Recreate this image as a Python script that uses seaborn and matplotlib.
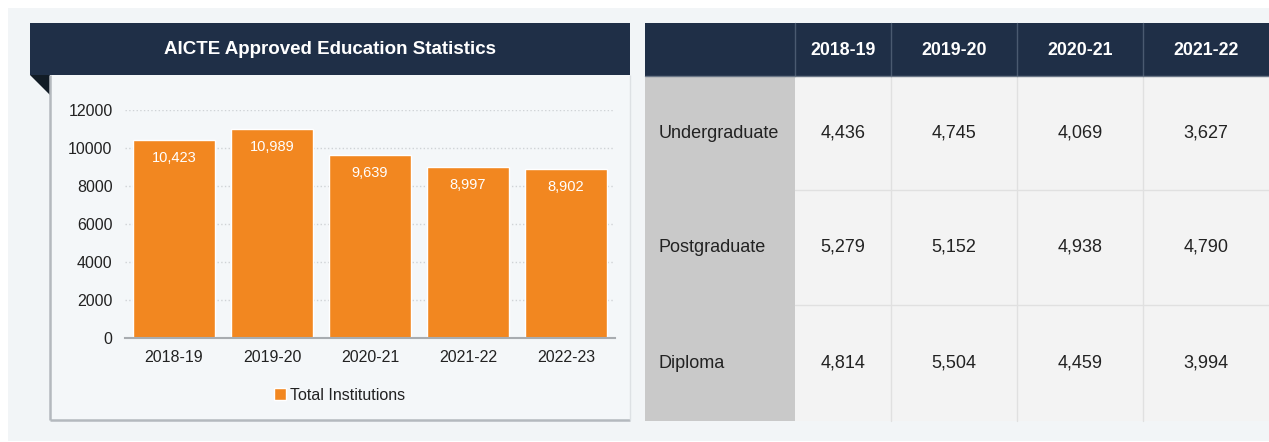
import matplotlib
matplotlib.use('Agg')
import matplotlib.pyplot as plt
import seaborn as sns
from matplotlib.patches import Rectangle, Polygon
from matplotlib.ticker import FixedLocator

# ---------------- data ----------------
years = ['2018-19', '2019-20', '2020-21', '2021-22', '2022-23']
total_institutions = [10423, 10989, 9639, 8997, 8902]
y_ticks = [0, 2000, 4000, 6000, 8000, 10000, 12000]

table_years = ['2018-19', '2019-20', '2020-21', '2021-22']
row_labels = ['Undergraduate', 'Postgraduate', 'Diploma']
undergraduate = [4436, 4745, 4069, 3627]
postgraduate = [5279, 5152, 4938, 4790]
diploma = [4814, 5504, 4459, 3994]
table_rows = [undergraduate, postgraduate, diploma]

title = 'AICTE Approved Education Statistics'
legend_label = 'Total Institutions'

# ---------------- style ----------------
NAVY = '#1f2f47'
ORANGE = '#f28720'
BG = '#f2f5f7'
PANEL = '#f4f7f9'
TXT = '#222222'

sns.set_theme(style='white')
plt.rcParams['font.family'] = ['Liberation Sans', 'DejaVu Sans']

W, H = 1269, 442
fig = plt.figure(figsize=(W / 100, H / 100), dpi=100)
fig.patch.set_facecolor('white')

bg = fig.add_axes([0, 0, 1, 1])
bg.set_xlim(0, W)
bg.set_ylim(H, 0)
bg.axis('off')

# outer background
bg.add_patch(Rectangle((8, 8), W - 8, H - 9, facecolor=BG, lw=0))

# chart panel
bg.add_patch(Rectangle((50, 75), 580, 345, facecolor=PANEL, lw=0))
bg.plot([50, 50], [75, 420], color='#b4b9be', lw=1.8, solid_capstyle='butt')
bg.plot([50, 630], [420, 420], color='#b4b9be', lw=1.8, solid_capstyle='butt')
bg.plot([629.5, 629.5], [75, 420], color='#dde1e4', lw=1, solid_capstyle='butt')
bg.add_patch(Rectangle((30, 23), 600, 52, facecolor=NAVY, lw=0))
bg.add_patch(Polygon([(30, 75), (50, 75), (50, 95)], closed=True, facecolor='#121c26', lw=0))
bg.text(330, 50, title, color='white', fontsize=13.5, fontweight='bold', ha='center', va='center')

# ---------------- table ----------------
col_edges = [645, 795, 891, 1017, 1143, 1269]
row_edges = [23, 76, 190, 305, 421]

# header
bg.add_patch(Rectangle((col_edges[0], row_edges[0]), col_edges[-1] - col_edges[0],
                       row_edges[1] - row_edges[0], facecolor=NAVY, lw=0))
# label column
bg.add_patch(Rectangle((col_edges[0], row_edges[1]), col_edges[1] - col_edges[0],
                       row_edges[-1] - row_edges[1], facecolor='#c9c9c9', lw=0))
# data cells
bg.add_patch(Rectangle((col_edges[1], row_edges[1]), col_edges[-1] - col_edges[1],
                       row_edges[-1] - row_edges[1], facecolor='#f3f3f3', lw=0))
# grid lines in data area
for x in col_edges[2:-1]:
    bg.plot([x, x], [row_edges[1], row_edges[-1]], color='#e0e0e0', lw=1)
for y in row_edges[2:-1]:
    bg.plot([col_edges[1], col_edges[-1]], [y, y], color='#e0e0e0', lw=1)
# header separators
for x in col_edges[1:-1]:
    bg.plot([x, x], [row_edges[0], row_edges[1]], color='#4a5a70', lw=1)
bg.plot([col_edges[0], col_edges[-1]], [row_edges[1], row_edges[1]], color='#6a7686', lw=1)

for j, yr in enumerate(table_years):
    cx = (col_edges[j + 1] + col_edges[j + 2]) / 2
    bg.text(cx, (row_edges[0] + row_edges[1]) / 2 + 1, yr, color='white', fontsize=12.8,
            fontweight='bold', ha='center', va='center')

for i, (lab, vals) in enumerate(zip(row_labels, table_rows)):
    cy = (row_edges[i + 1] + row_edges[i + 2]) / 2
    bg.text(col_edges[0] + 14, cy, lab, color=TXT, fontsize=13, ha='left', va='center')
    for j, v in enumerate(vals):
        cx = (col_edges[j + 1] + col_edges[j + 2]) / 2
        bg.text(cx, cy, f'{v:,}', color=TXT, fontsize=13, ha='center', va='center')

# ---------------- bar chart ----------------
ax_l, ax_r, ax_t, ax_b = 125, 615, 110, 338
ax = fig.add_axes([ax_l / W, 1 - ax_b / H, (ax_r - ax_l) / W, (ax_b - ax_t) / H])
ax.set_facecolor('none')

sns.barplot(x=years, y=total_institutions, color=ORANGE, saturation=1, width=0.84,
            ax=ax, zorder=3)

ax.set_xlim(-0.5, len(years) - 0.5)
ax.set_ylim(0, 12000)
ax.set_yticks(y_ticks)
ax.set_yticklabels([str(t) for t in y_ticks])
ax.yaxis.grid(True, linestyle=':', color='#cfd3d6', lw=1)
ax.xaxis.grid(False)
ax.set_axisbelow(True)

for s in ['top', 'right', 'left']:
    ax.spines[s].set_visible(False)
ax.spines['bottom'].set_color('#a8acb0')
ax.spines['bottom'].set_linewidth(1.5)
ax.spines['bottom'].set_zorder(4)

ax.tick_params(axis='x', which='major', length=0, pad=9, labelsize=11.5, labelcolor=TXT)
ax.tick_params(axis='y', which='major', length=0, pad=9, labelsize=11.5, labelcolor=TXT)
ax.xaxis.set_minor_locator(FixedLocator([k - 0.5 for k in range(len(years) + 1)]))
ax.tick_params(axis='x', which='minor', length=5, width=1.5, color='#a8acb0', direction='out')
ax.set_xlabel('')
ax.set_ylabel('')

for p, v in zip(ax.containers[0], total_institutions):
    ax.annotate(f'{v:,}', (p.get_x() + p.get_width() / 2, p.get_height()),
                xytext=(0, -8), textcoords='offset points', ha='center', va='top',
                color='white', fontsize=10.5, zorder=5)

fig.legend(handles=[Rectangle((0, 0), 1, 1, facecolor=ORANGE)], labels=[legend_label],
           loc='center', bbox_to_anchor=(340 / W, 1 - 395 / H), frameon=False,
           handlelength=0.7, handleheight=0.7, handletextpad=0.3, fontsize=11.5,
           labelcolor=TXT)

fig.savefig('out.png', dpi=100, facecolor=fig.get_facecolor())
